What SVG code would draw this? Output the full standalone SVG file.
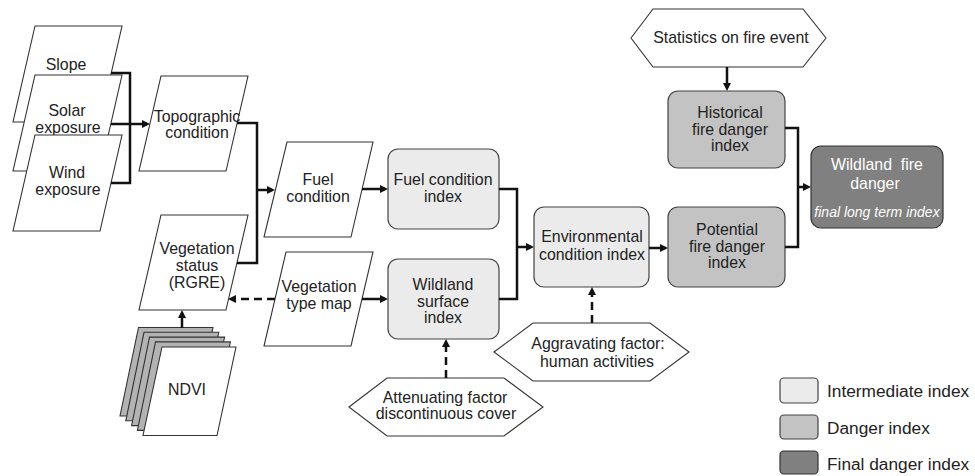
<svg xmlns="http://www.w3.org/2000/svg" width="975" height="476" viewBox="0 0 975 476">
<defs>
<style>
.t{font-family:"Liberation Sans",Arial,sans-serif;font-size:15.9px;fill:#222;text-anchor:middle}
.lg{font-family:"Liberation Sans",Arial,sans-serif;font-size:17.3px;fill:#222}
.pg{fill:#fff;stroke:#333;stroke-width:1.1}
.sh{fill:#b3b3b3;stroke:#333;stroke-width:1.1}
.im{fill:#ebebeb;stroke:#444;stroke-width:1.2}
.dg{fill:#c3c3c3;stroke:#444;stroke-width:1.2}
.fn{fill:#808080;stroke:#333;stroke-width:1.2}
.c{fill:none;stroke:#111;stroke-width:2.5;stroke-linejoin:miter}
.d{stroke-dasharray:8 5}
.a{marker-end:url(#ah)}
</style>
<marker id="ah" viewBox="0 0 8 8" refX="5" refY="4" markerWidth="8" markerHeight="8" markerUnits="userSpaceOnUse" orient="auto">
<path d="M0,0 L8,4 L0,8 z" fill="#111"/>
</marker>
</defs>
<rect width="975" height="476" fill="#fff"/>

<g id="slope"><polygon class="pg" points="35,26 122,26 100,122 13,122"/><text class="t" x="66" y="70">Slope</text></g>
<g id="solar"><polygon class="pg" points="35,75 122,75 100,171 13,171"/><text class="t" x="67" y="116">Solar</text><text class="t" x="68" y="133">exposure</text></g>
<g id="wind"><polygon class="pg" points="35,135 122,135 100,231 13,231"/><text class="t" x="67" y="178">Wind</text><text class="t" x="68" y="195">exposure</text></g>
<g id="topo"><polygon class="pg" points="161,76 248,76 226,171 139,171"/><text class="t" x="197" y="122">Topographic</text><text class="t" x="197" y="138">condition</text></g>
<g id="vegstatus"><polygon class="pg" points="161,215 248,215 226,310 139,310"/><text class="t" x="197" y="254">Vegetation</text><text class="t" x="197" y="271">status</text><text class="t" x="197" y="288">(RGRE)</text></g>
<g id="fuelcond"><polygon class="pg" points="287,142 373,142 351,237 264,237"/><text class="t" x="318" y="185">Fuel</text><text class="t" x="318" y="202">condition</text></g>
<g id="vegtype"><polygon class="pg" points="286,252 373,252 351,346 264,346"/><text class="t" x="319" y="292">Vegetation</text><text class="t" x="319" y="309">type map</text></g>
<g id="ndvi">
<polygon class="sh" points="138.5,327.5 213,327.5 194,416 120,416"/>
<polygon class="sh" points="144,332.3 218.8,332.3 199.8,420.8 125.8,420.8"/>
<polygon class="sh" points="149.5,337.1 224.6,337.1 205.6,425.6 131.6,425.6"/>
<polygon class="sh" points="155.5,341.9 230.4,341.9 211.4,430.4 137.4,430.4"/>
<polygon class="pg" points="162,347 236,347 217,435.5 143,435.5"/>
<text class="t" x="187" y="395">NDVI</text>
</g>
<g id="fci"><rect class="im" x="388" y="149" width="111" height="80" rx="10"/><text class="t" x="443" y="185">Fuel condition</text><text class="t" x="443" y="202">index</text></g>
<g id="wsi"><rect class="im" x="388" y="259" width="111" height="80" rx="10"/><text class="t" x="443" y="290">Wildland</text><text class="t" x="443" y="307">surface</text><text class="t" x="443" y="323">index</text></g>
<g id="eci"><rect class="im" x="534" y="207" width="115" height="80" rx="10"/><text class="t" x="592" y="242">Environmental</text><text class="t" x="592" y="260">condition index</text></g>
<g id="attenuating"><polygon class="pg" points="349,407 387,378 504,378 543,407 504,436 387,436"/><text class="t" x="445" y="403">Attenuating factor</text><text class="t" x="446" y="419">discontinuous cover</text></g>
<g id="aggravating"><polygon class="pg" points="494,352 533,323 650,323 689,352 650,381 533,381"/><text class="t" x="598" y="349">Aggravating factor:</text><text class="t" x="597" y="367">human activities</text></g>
<g id="stats"><polygon class="pg" points="631,38 653,9 803,9 826,38 803,67 653,67"/><text class="t" x="731" y="43">Statistics on fire event</text></g>
<g id="hfdi"><rect class="dg" x="668" y="91" width="117" height="77" rx="10"/><text class="t" x="730" y="118">Historical</text><text class="t" x="730" y="135">fire danger</text><text class="t" x="730" y="151">index</text></g>
<g id="pfdi"><rect class="dg" x="668" y="207" width="117" height="80" rx="10"/><text class="t" x="727" y="235">Potential</text><text class="t" x="727" y="252">fire danger</text><text class="t" x="727" y="268">index</text></g>
<g id="wfd"><rect class="fn" x="811" y="146" width="132" height="82" rx="10"/><text class="t" x="877" y="170" style="fill:#fff;white-space:pre">Wildland  fire</text><text class="t" x="875" y="189" style="fill:#fff">danger</text><text class="t" x="877" y="217" style="fill:#fff;font-style:italic;font-size:14px">final long term index</text></g>

<g id="legend">
<rect class="im" x="780" y="378" width="38" height="25" rx="4"/><text class="lg" x="827" y="397">Intermediate index</text>
<rect class="dg" x="780" y="415" width="38" height="24" rx="4"/><text class="lg" x="827" y="434">Danger index</text>
<rect class="fn" x="780" y="451" width="38" height="23" rx="4"/><text class="lg" x="827" y="470">Final danger index</text>
</g>

<g id="connectors">
<path class="c" d="M111,73 H130 V183 H111"/>
<path class="c a" d="M111,124 H147"/>
<path class="c" d="M237,123 H257 V263 H237"/>
<path class="c a" d="M257,190 H272"/>
<path class="c a" d="M362,189 H385"/>
<path class="c a" d="M362,299 H385"/>
<path class="c d a" d="M275,299 H231"/>
<path class="c a" d="M182,328 V313"/>
<path class="c" d="M499,189 H517 V299 H499"/>
<path class="c a" d="M517,247 H531"/>
<path class="c d a" d="M446,378 V342"/>
<path class="c d a" d="M592,323 V290"/>
<path class="c a" d="M649,248 H665"/>
<path class="c a" d="M727,67 V88"/>
<path class="c" d="M785,128 H798 V247 H785"/>
<path class="c a" d="M798,187 H808"/>
</g>
</svg>
